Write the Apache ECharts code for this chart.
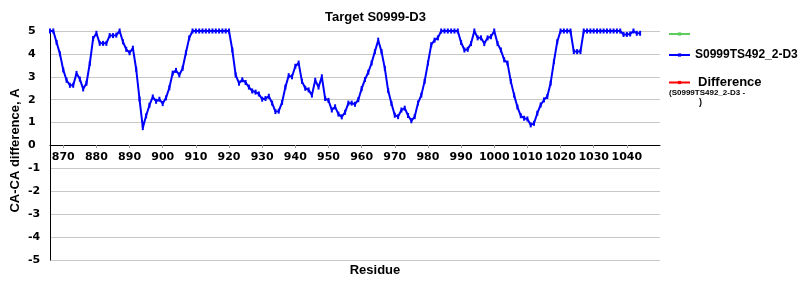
<!DOCTYPE html>
<html>
<head>
<meta charset="utf-8">
<script src="https://cdn.jsdelivr.net/npm/echarts@6/dist/echarts.min.js"></script>
<style>html,body{margin:0;padding:0;background:#fff}#c{width:800px;height:300px}</style>
</head>
<body>
<div id="c"></div>
<script>
const titleText = 'Target S0999-D3';
const seriesNames = ['S0999-D3', 'S0999TS492_2-D3', 'Difference'];
const firstResidue = 866;
const modelValues = [
  5,5,4.5,4.0,3.3,2.85,2.63,2.63,3.15,2.9,
  2.47,2.72,3.58,4.67,4.9,4.46,4.46,4.46,4.8,4.8,
  4.82,5,4.53,4.2,4.05,4.25,3.33,2.03,0.78,1.3,
  1.76,2.12,1.93,2.02,1.83,2.08,2.52,3.16,3.28,3.08,
  3.37,4.05,4.7,5,5,5,5,5,5,5,
  5,5,5,5,5,4.17,3.08,2.72,2.87,2.75,
  2.55,2.38,2.33,2.25,2.02,2.05,2.15,1.85,1.48,1.5,
  1.88,2.55,3.05,3.0,3.46,3.6,2.8,2.5,2.43,2.2,
  2.85,2.55,3.0,2.05,1.97,1.55,1.69,1.37,1.25,1.45,
  1.85,1.85,1.8,2.0,2.48,2.88,3.2,3.6,4.1,4.6,
  4.1,3.37,2.4,1.83,1.32,1.26,1.55,1.63,1.31,1.08,
  1.26,1.85,2.2,2.8,3.6,4.4,4.6,4.7,5,5,
  5,5,5,5,4.5,4.17,4.2,4.45,5,4.7,
  4.7,4.45,4.7,4.75,5,4.45,4.17,3.74,3.6,2.8,
  2.2,1.68,1.3,1.19,1.16,0.9,0.97,1.41,1.77,1.99,
  2.14,2.72,3.66,4.53,5,5,5,5,4.1,4.1,
  4.1,5,5,5,5,5,5,5,5,5,
  5,5,5,4.85,4.85,4.87,5,4.9,4.9
];
const targetValues = [];
const differenceValues = [];
const xTicks = [870,880,890,900,910,920,930,940,950,960,970,980,990,1000,1010,1020,1030,1040];
const xRange = [866, 1050];
const yRange = [-5, 5];

const modelData = modelValues.map((v, i) => [firstResidue + i, v]);

const tickFont = { fontFamily: 'DejaVu Sans', fontWeight: 'bold', fontSize: 11, color: '#000' };
const lblFont = { fontFamily: 'Liberation Sans', fontWeight: 'bold', color: '#000' };

const chart = echarts.init(document.getElementById('c'), null, { renderer: 'canvas' });
chart.setOption({
  animation: false,
  backgroundColor: '#fff',
  title: {
    text: titleText, left: 320, top: 6,
    textStyle: Object.assign({ fontSize: 13 }, lblFont)
  },
  grid: { left: 50, right: 140, top: 31, bottom: 40, containLabel: false, outerBoundsMode: 'none' },
  legend: [
    { data: [seriesNames[0]], left: 668, top: 32, padding: 0, orient: 'vertical', itemWidth: 21, itemHeight: 4,
      formatter: () => '', textStyle: Object.assign({ fontSize: 12 }, lblFont) },
    { data: [seriesNames[1]], left: 668, top: 49, padding: 0, orient: 'vertical', itemWidth: 21, itemHeight: 4,
      textStyle: Object.assign({ fontSize: 12 }, lblFont) },
    { data: [seriesNames[2]], left: 668, top: 76, padding: 0, orient: 'vertical', itemWidth: 21, itemHeight: 4,
      textStyle: Object.assign({ fontSize: 13, padding: [0,0,0,3] }, lblFont) }
  ],
  graphic: [
    { type: 'text', left: 669, top: 89, style: { text: '(S0999TS492_2-D3 -', font: 'bold 8px "Liberation Sans"', fill: '#000' } },
    { type: 'text', left: 699, top: 98, style: { text: ')', font: 'bold 9px "Liberation Sans"', fill: '#000' } }
  ],
  xAxis: {
    type: 'value', min: xRange[0], max: xRange[1], offset: -115,
    name: 'Residue', nameLocation: 'middle', nameGap: 119, nameMoveOverlap: false,
    nameTextStyle: Object.assign({ fontSize: 13, padding: [0,0,0,40] }, lblFont),
    axisLine: { show: true, onZero: false, lineStyle: { color: '#000', width: 1 } },
    axisTick: { show: true, customValues: xTicks, length: 3, lineStyle: { color: '#999' } },
    axisLabel: Object.assign({ customValues: xTicks, margin: 7, hideOverlap: false, formatter: v => String(v) }, tickFont),
    splitLine: { show: false }
  },
  yAxis: {
    type: 'value', min: yRange[0], max: yRange[1], interval: 1,
    name: 'CA-CA difference, A', nameLocation: 'middle', nameGap: 28, nameRotate: 90, nameMoveOverlap: false,
    nameTextStyle: Object.assign({ fontSize: 13, padding: [0,10,0,0] }, lblFont),
    axisLine: { show: true, lineStyle: { color: '#000', width: 1 } },
    axisTick: { show: false },
    axisLabel: Object.assign({ align: 'left', margin: 22 }, tickFont),
    splitLine: { show: true, lineStyle: { color: '#c8c8c8', width: 1 } }
  },
  series: [
    { name: seriesNames[0], type: 'line', data: targetValues, color: '#5ccc5c',
      symbol: 'rect', symbolSize: [2,4], lineStyle: { width: 2 } },
    { name: seriesNames[1], type: 'line', data: modelData, color: '#0000ff',
      symbol: 'rect', symbolSize: [2,5], lineStyle: { width: 2 } },
    { name: seriesNames[2], type: 'line', data: differenceValues, color: '#ff0000',
      symbol: 'rect', symbolSize: [2,4], lineStyle: { width: 2 } }
  ]
});
</script>
</body>
</html>
